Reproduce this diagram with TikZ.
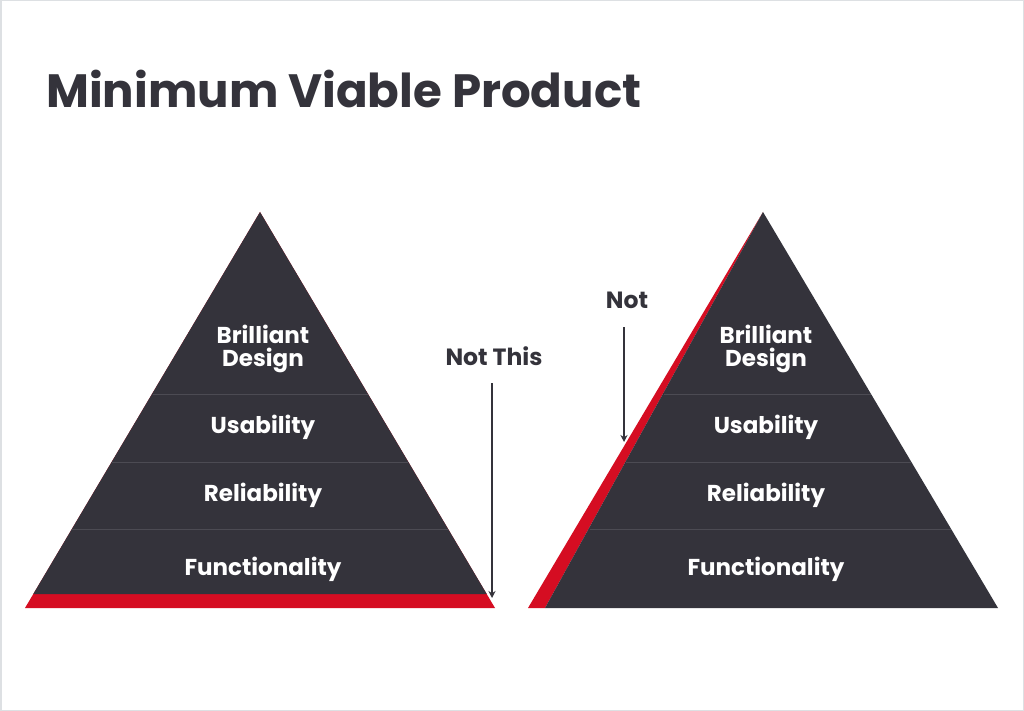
\documentclass[tikz,border=0pt]{standalone}
\usepackage{fontspec}
\setmainfont{Poppins}
\usetikzlibrary{arrows.meta}
\definecolor{dark}{HTML}{34333B}
\definecolor{mvpred}{HTML}{D50D22}
\definecolor{layerline}{HTML}{4C4B53}
\definecolor{framegray}{HTML}{DDE0E3}
\tikzset{
  lbl/.style={text=white,font=\bfseries\fontsize{23}{23.5}\selectfont,align=center,inner sep=0pt},
  note/.style={text=dark,font=\bfseries\fontsize{23.5}{23.5}\selectfont,inner sep=0pt},
  sep/.style={draw=layerline,line width=0.8pt},
  pointer/.style={draw=dark,line width=1.3pt,-{Stealth[length=7pt,width=7pt]}}
}
\begin{document}
\begin{tikzpicture}[x=1pt,y=-1pt]
\useasboundingbox (0,0) rectangle (1024,711);
\fill[white] (0,0) rectangle (1024,711);
\draw[framegray,line width=1.5pt] (0.75,0.75) rectangle (1023.25,710.25);
% title
\node[anchor=base west,inner sep=0pt,text=dark,font=\bfseries\fontsize{46.7}{46.7}\selectfont] (title) at (46,108) {Minimum Viable Product};
% left pyramid
\fill[mvpred] (25,608) -- (495,608) -- (260,212) -- cycle;
\fill[dark] (33.3,594) -- (486.7,594) -- (260,212) -- cycle;
\draw[sep] (152.5,394) -- (367.5,394);
\draw[sep] (112.1,462) -- (407.9,462);
\draw[sep] (72.3,529) -- (447.7,529);
\node[lbl] (l1) at (263,349) {Brilliant\\Design};
\node[lbl] (l2) at (263,427) {Usability};
\node[lbl] (l3) at (263,495) {Reliability};
\node[lbl] (l4) at (263,569) {Functionality};
% right pyramid
\fill[mvpred] (528,608) -- (545,608) -- (763,212) -- cycle;
\fill[dark] (545,608) -- (998,608) -- (763,212) -- cycle;
\draw[sep] (663.8,394) -- (871,394);
\draw[sep] (626.4,462) -- (911.4,462);
\draw[sep] (589.5,529) -- (951.1,529);
\node[lbl] (r1) at (766,349) {Brilliant\\Design};
\node[lbl] (r2) at (766,427) {Usability};
\node[lbl] (r3) at (766,495) {Reliability};
\node[lbl] (r4) at (766,569) {Functionality};
% annotations
\node[note] (nt) at (494,356) {Not This};
\coordinate (ntEnd) at (492,598);
\draw[pointer] (492,383) -- (ntEnd);
\node[note] (n) at (627,300) {Not};
\coordinate (nEnd) at (624,442);
\draw[pointer] (624,327) -- (nEnd);
\end{tikzpicture}
\end{document}
